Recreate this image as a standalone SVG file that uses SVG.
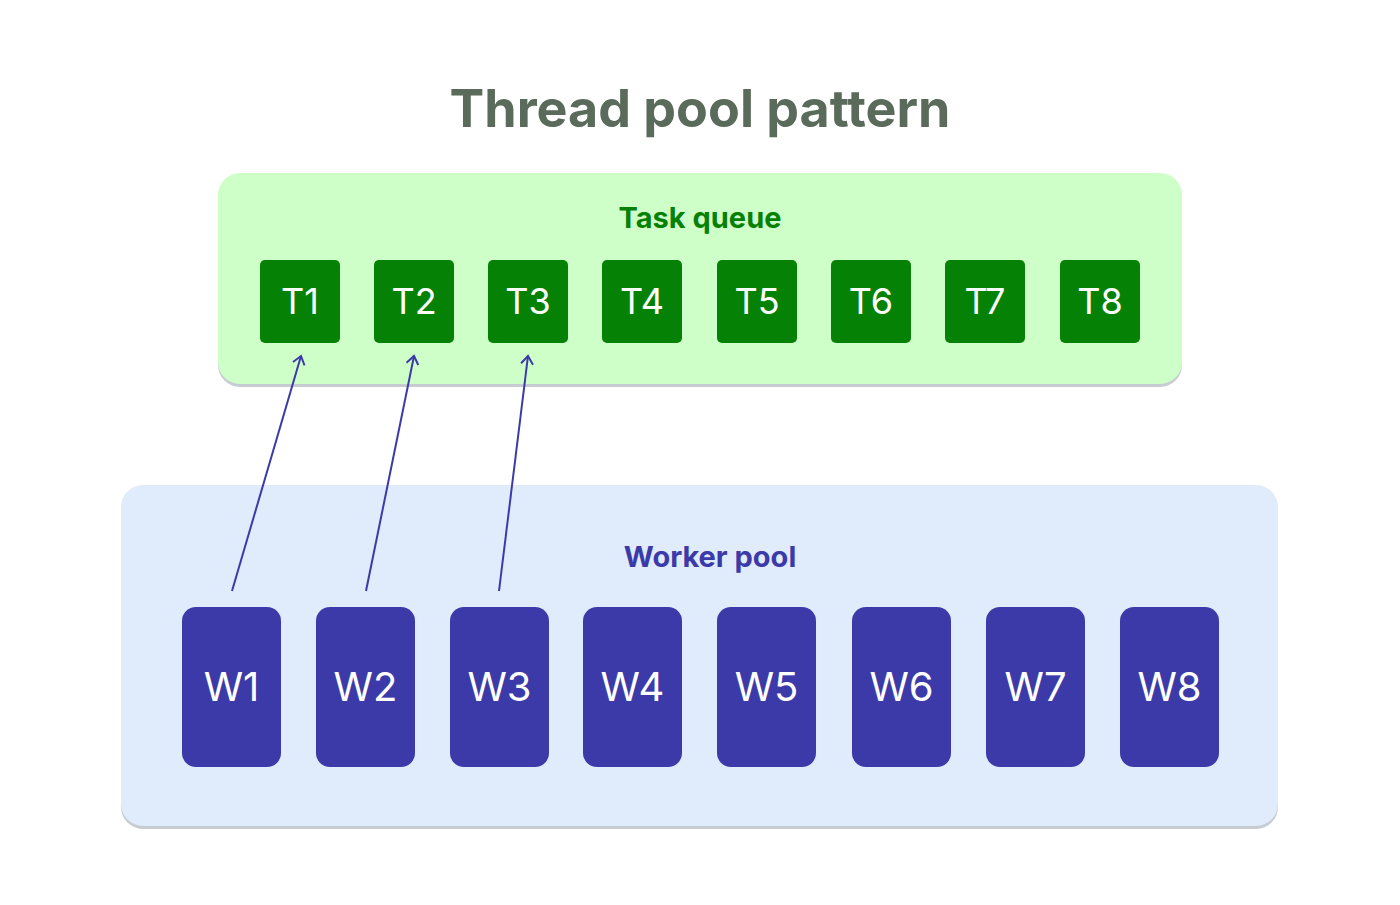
<svg xmlns="http://www.w3.org/2000/svg" width="1400" height="905" viewBox="0 0 1400 905">
<defs>
<style>
.title{font-family:Inter,"Liberation Sans",sans-serif;font-weight:700;font-size:52px;fill:#5b6b5b}
.grp{font-family:Inter,"Liberation Sans",sans-serif;font-weight:700;font-size:29px}
.t{fill:#058205}
.tl{font-family:Inter,"Liberation Sans",sans-serif;font-size:36px;fill:#ffffff}
.w{fill:#3c3aa8}
.wl{font-family:Inter,"Liberation Sans",sans-serif;font-size:40px;fill:#ffffff}
.conn{stroke:#3c3aa8;stroke-width:2;fill:none}
</style>
<marker id="ah" markerWidth="16" markerHeight="16" refX="10" refY="8" orient="auto" markerUnits="userSpaceOnUse">
<path d="M2,2 L10,8 L2,14" fill="none" stroke="#3c3aa8" stroke-width="2"/>
</marker>
</defs>
<rect width="1400" height="905" fill="#ffffff"/>
<text class="title" x="700" y="127" text-anchor="middle">Thread pool pattern</text>

<g id="task-queue">
<rect x="218" y="175" width="964" height="212" rx="22" fill="#c6ccd2"/>
<rect x="218" y="173" width="964" height="211" rx="22" fill="#cfffc9"/>
<text class="grp" x="700" y="228" text-anchor="middle" fill="#078006">Task queue</text>
</g>

<g id="worker-pool">
<rect x="121" y="487" width="1157" height="342" rx="22" fill="#c6ccd2"/>
<rect x="121" y="485" width="1157" height="341" rx="22" fill="#e0ebfb"/>
<text class="grp" x="710" y="567" text-anchor="middle" fill="#3c3aa8">Worker pool</text>
</g>

<g id="T1"><rect class="t" x="260" y="260" width="80" height="83" rx="5"/><text class="tl" x="300" y="314" text-anchor="middle">T1</text></g>
<g id="T2"><rect class="t" x="374" y="260" width="80" height="83" rx="5"/><text class="tl" x="414" y="314" text-anchor="middle">T2</text></g>
<g id="T3"><rect class="t" x="488" y="260" width="80" height="83" rx="5"/><text class="tl" x="528" y="314" text-anchor="middle">T3</text></g>
<g id="T4"><rect class="t" x="602" y="260" width="80" height="83" rx="5"/><text class="tl" x="642" y="314" text-anchor="middle">T4</text></g>
<g id="T5"><rect class="t" x="717" y="260" width="80" height="83" rx="5"/><text class="tl" x="757" y="314" text-anchor="middle">T5</text></g>
<g id="T6"><rect class="t" x="831" y="260" width="80" height="83" rx="5"/><text class="tl" x="871" y="314" text-anchor="middle">T6</text></g>
<g id="T7"><rect class="t" x="945" y="260" width="80" height="83" rx="5"/><text class="tl" x="985" y="314" text-anchor="middle">T7</text></g>
<g id="T8"><rect class="t" x="1060" y="260" width="80" height="83" rx="5"/><text class="tl" x="1100" y="314" text-anchor="middle">T8</text></g>

<g id="W1"><rect class="w" x="182" y="607" width="99" height="160" rx="14"/><text class="wl" x="231.5" y="701" text-anchor="middle">W1</text></g>
<g id="W2"><rect class="w" x="316" y="607" width="99" height="160" rx="14"/><text class="wl" x="365.5" y="701" text-anchor="middle">W2</text></g>
<g id="W3"><rect class="w" x="450" y="607" width="99" height="160" rx="14"/><text class="wl" x="499.5" y="701" text-anchor="middle">W3</text></g>
<g id="W4"><rect class="w" x="583" y="607" width="99" height="160" rx="14"/><text class="wl" x="632.5" y="701" text-anchor="middle">W4</text></g>
<g id="W5"><rect class="w" x="717" y="607" width="99" height="160" rx="14"/><text class="wl" x="766.5" y="701" text-anchor="middle">W5</text></g>
<g id="W6"><rect class="w" x="852" y="607" width="99" height="160" rx="14"/><text class="wl" x="901.5" y="701" text-anchor="middle">W6</text></g>
<g id="W7"><rect class="w" x="986" y="607" width="99" height="160" rx="14"/><text class="wl" x="1035.5" y="701" text-anchor="middle">W7</text></g>
<g id="W8"><rect class="w" x="1120" y="607" width="99" height="160" rx="14"/><text class="wl" x="1169.5" y="701" text-anchor="middle">W8</text></g>

<g id="connectors">
<line class="conn" x1="232" y1="591" x2="301" y2="356" marker-end="url(#ah)"/>
<line class="conn" x1="366" y1="591" x2="414" y2="356" marker-end="url(#ah)"/>
<line class="conn" x1="499" y1="591" x2="528" y2="356" marker-end="url(#ah)"/>
</g>
</svg>
